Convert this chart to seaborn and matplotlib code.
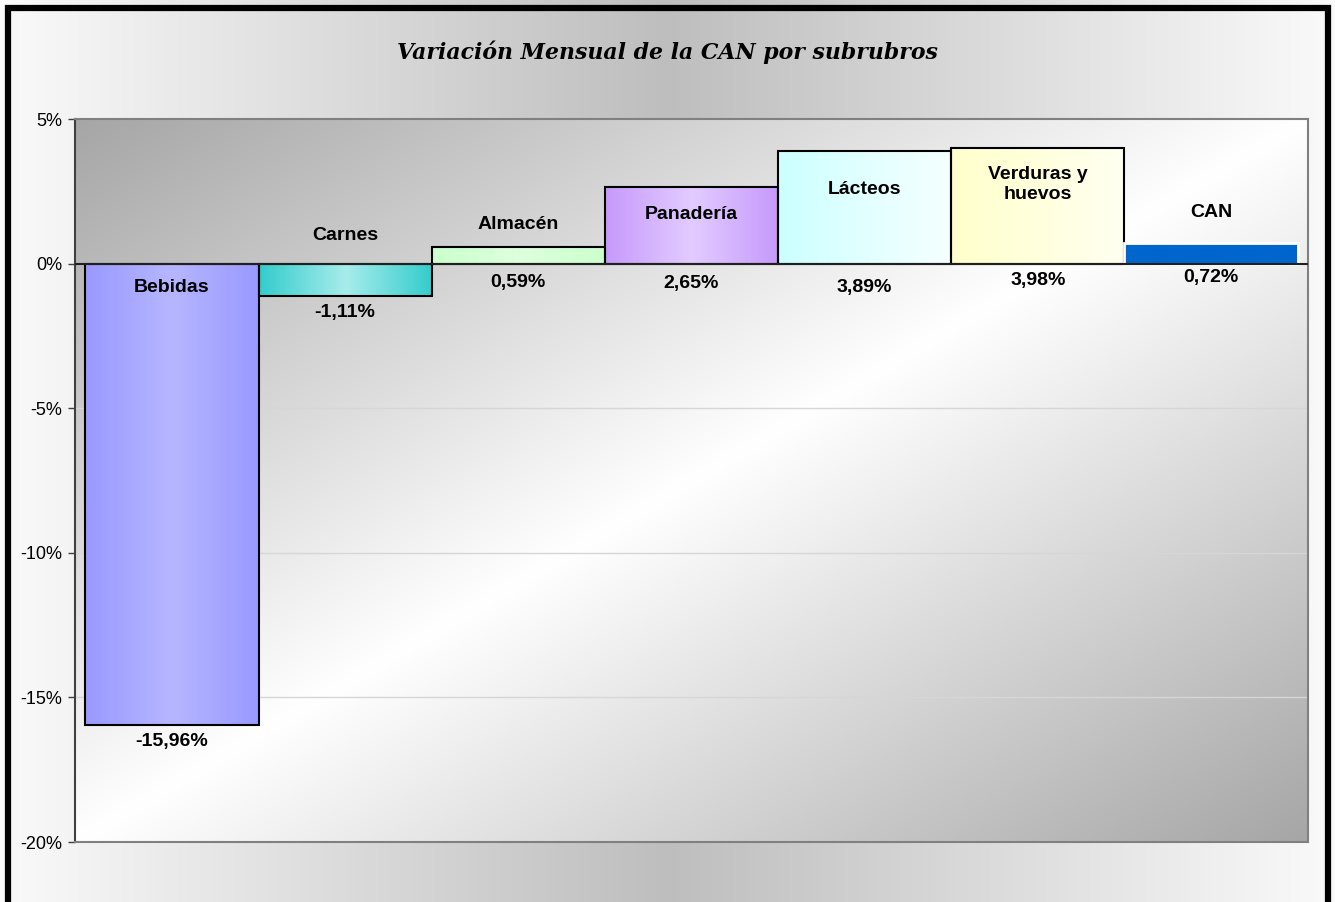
import numpy as np
import matplotlib
matplotlib.use("Agg")
import matplotlib.pyplot as plt
from matplotlib.patches import Rectangle
from matplotlib.colors import to_rgb
import seaborn as sns

############### Datos ##################################
categorias = ["Bebidas", "Carnes", "Almacén", "Panadería", "Lácteos", "Verduras y\nhuevos", "CAN"]
variacion = [-15.96, -1.11, 0.59, 2.65, 3.89, 3.98, 0.72]
ticks_y = [5, 0, -5, -10, -15, -20]
titulo = "Variación Mensual de la CAN por subrubros"

# colores del gradiente horizontal de cada barra: izquierda, centro, derecha
col_izq = ["#9999FF", "#33CCCC", "#CCFFCC", "#C699FC", "#CCFFFF", "#FFFFCC", "#0066CC"]
col_cen = ["#B6B6FF", "#A8ECEC", "#DDFFDD", "#E2CCFF", "#E2FFFF", "#FFFFDD", "#0066CC"]
col_der = ["#9999FF", "#33CCCC", "#CCFFCC", "#C699FC", "#F5FFFF", "#FFFFF2", "#0066CC"]

# posicion vertical (en %) de las etiquetas, como en el original
pos_nombre = [-0.83, 0.97, 1.35, 1.69, 2.56, 2.73, 1.76]
pos_valor = [-16.53, -1.69, -0.66, -0.69, -0.83, -0.59, -0.48]

plt.rcParams['font.family'] = ['Liberation Sans', 'DejaVu Sans']

W, H = 1335, 902
fig = plt.figure(figsize=(W / 100, H / 100), dpi=100)

# fondo de la figura: gris al centro, blanco en los bordes
bg = fig.add_axes([0, 0, 1, 1], zorder=-5)
u = np.linspace(0, 1, 512)
g = 0.98 - 0.235 * (1 - np.abs(u - 0.5) * 2)
bg.imshow(np.tile(g, (2, 1))[:, :, None].repeat(3, axis=2), aspect='auto',
          extent=[0, 1, 0, 1], interpolation='bilinear')
bg.axis('off')

ax = fig.add_axes([75 / W, (H - 842) / H, (1308 - 75) / W, (842 - 119) / H])
ax.set_facecolor('none')

# fondo del area de trazado: gradiente diagonal oscuro -> blanco -> oscuro
# (fila 0 = borde superior)
xx, yy = np.meshgrid(np.linspace(0, 1, 400), np.linspace(0, 1, 400))
t = (xx + yy) / 2
shade = 0.65 + 0.35 * (1 - np.abs(t - 0.5) * 2)
shade = np.clip(shade, 0, 1)
ax.imshow(shade[:, :, None].repeat(3, axis=2), extent=[0, 1, 0, 1], transform=ax.transAxes,
          aspect='auto', interpolation='bilinear', zorder=-10)

sns.barplot(x=categorias, y=variacion, hue=categorias, palette=col_izq, legend=False,
            width=1.0, ax=ax, zorder=3, edgecolor='black', linewidth=1.5)

patches = sorted(ax.patches, key=lambda p: p.get_x())
for i, p in enumerate(patches):
    x0, y0 = p.get_x(), p.get_y()
    x1, y1 = x0 + p.get_width(), y0 + p.get_height()
    n = 256
    s = np.linspace(0, 1, n)
    a, b, c = np.array(to_rgb(col_izq[i])), np.array(to_rgb(col_cen[i])), np.array(to_rgb(col_der[i]))
    row = np.where(s[:, None] < 0.5, a + (b - a) * (s[:, None] / 0.5), b + (c - b) * ((s[:, None] - 0.5) / 0.5))
    img = np.tile(row[None, :, :], (2, 1, 1))
    im = ax.imshow(img, extent=[x0, x1, min(y0, y1), max(y0, y1)], aspect='auto',
                   interpolation='bilinear', zorder=2.5)
    im.set_clip_path(p)
    p.set_facecolor('none')
    if categorias[i] == "CAN":
        p.set_edgecolor('white')
        p.set_linewidth(2)

# etiquetas
for i, cat in enumerate(categorias):
    ax.text(i, pos_nombre[i], cat, ha='center', va='center', fontsize=14,
            fontweight='bold', zorder=5, linespacing=1.25)
    txt = f"{variacion[i]:.2f}".replace(".", ",") + "%"
    ax.text(i, pos_valor[i], txt, ha='center', va='center', fontsize=14,
            fontweight='bold', zorder=5)

ax.set_xlim(-0.56, 6.56)
ax.set_ylim(-20, 5)
ax.set_yticks(ticks_y)
ax.set_yticklabels([f"{v}%" for v in ticks_y])
ax.set_xticks([])
ax.set_xlabel("")
ax.set_ylabel("")

for v in [-5, -10, -15]:
    ax.axhline(v, color='#D6D6D6', lw=1, zorder=1)
ax.axhline(0, color='#202020', lw=1.5, zorder=4)

for side in ['top', 'right', 'bottom']:
    ax.spines[side].set_color('#808080')
    ax.spines[side].set_linewidth(1.5)
ax.spines['left'].set_color('#404040')
ax.spines['left'].set_linewidth(1.5)
ax.tick_params(axis='y', length=5, width=1, color='#404040', pad=4, labelsize=13)

fig.text(0.5, (H - 52) / H, titulo, ha='center', va='center', family='DejaVu Serif',
         fontweight='bold', style='italic', fontsize=15.8)

# marco negro de la figura
fig.patches.append(Rectangle((8 / W, -0.05), (1328 - 8) / W, (H - 8) / H + 0.05,
                             transform=fig.transFigure, fill=False, edgecolor='black',
                             linewidth=4.5, zorder=10))

fig.savefig("out.png", dpi=100)
